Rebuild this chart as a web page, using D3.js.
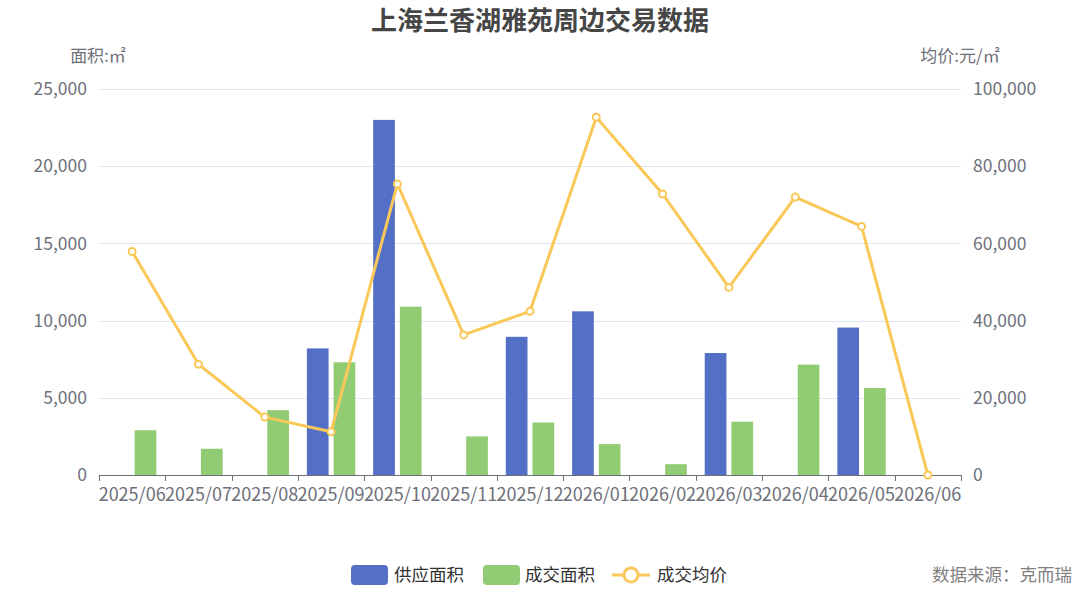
<!doctype html>
<html lang="zh">
  <head>
    <meta charset="utf-8">
    <title>上海兰香湖雅苑周边交易数据</title>
    <script src="https://d3js.org/d3.v7.min.js"></script>
    <style>
      body { margin: 0; background: #fff; }
      svg { display: block; font-family: "Noto Sans CJK SC", "Noto Sans", sans-serif; }
    </style>
  </head>

  <body>
    <svg width="1080" height="593"></svg>

    <script>
      var months = ["2025/06", "2025/07", "2025/08", "2025/09", "2025/10", "2025/11", "2025/12",
                    "2026/01", "2026/02", "2026/03", "2026/04", "2026/05", "2026/06"];
      var supplyArea = [0, 0, 0, 8200, 23000, 0, 8950, 10600, 0, 7900, 0, 9550, 0];
      var dealArea = [2900, 1700, 4200, 7300, 10900, 2500, 3400, 2000, 700, 3450, 7150, 5630, 0];
      var avgPrice = [57900, 28700, 15000, 11200, 75400, 36300, 42400, 92700, 72800, 48600, 72000, 64400, 0];
      var leftTicks = [0, 5000, 10000, 15000, 20000, 25000];
      var rightTicks = [0, 20000, 40000, 60000, 80000, 100000];

      var colors = { supply: "#5470c6", deal: "#91cc75", price: "#fac858" };
      var axisGray = "#6e7079";

      var svg = d3.select("svg");
      var plotL = 99, plotR = 961, plotT = 89, plotB = 475;

      var x = d3.scaleBand().domain(months).range([plotL, plotR]);
      var yL = d3.scaleLinear().domain([0, 25000]).range([plotB, plotT]);
      var yR = d3.scaleLinear().domain([0, 100000]).range([plotB, plotT]);

      // title
      svg.append("text")
        .attr("x", 540).attr("y", 30)
        .attr("text-anchor", "middle")
        .attr("font-size", 26).attr("font-weight", "bold")
        .attr("fill", "#464646")
        .text("上海兰香湖雅苑周边交易数据");

      // grid lines
      svg.append("g").selectAll("line").data(leftTicks.slice(1)).join("line")
        .attr("x1", plotL).attr("x2", plotR)
        .attr("y1", function(d){ return Math.round(yL(d)) + 0.5; })
        .attr("y2", function(d){ return Math.round(yL(d)) + 0.5; })
        .attr("stroke", "#e0e6f1");

      // axis names
      svg.append("text").attr("x", 98).attr("y", 62).attr("text-anchor", "middle")
        .attr("font-size", 17).attr("fill", axisGray).text("面积:㎡");
      svg.append("text").attr("x", 960).attr("y", 62).attr("text-anchor", "middle")
        .attr("font-size", 17).attr("fill", axisGray).text("均价:元/㎡");

      // left axis labels
      var fmt = d3.format(",");
      svg.append("g").selectAll("text").data(leftTicks).join("text")
        .attr("x", 87).attr("y", function(d){ return yL(d); })
        .attr("dy", "0.35em").attr("text-anchor", "end")
        .attr("font-size", 17.5).attr("fill", axisGray)
        .text(function(d){ return fmt(d); });

      // right axis labels
      svg.append("g").selectAll("text").data(rightTicks).join("text")
        .attr("x", 973).attr("y", function(d){ return yR(d); })
        .attr("dy", "0.35em").attr("text-anchor", "start")
        .attr("font-size", 17.5).attr("fill", axisGray)
        .text(function(d){ return fmt(d); });

      // bars
      var bw = 21.7, gap = 5;
      var pad = (x.bandwidth() - 2 * bw - gap) / 2;

      svg.append("g").selectAll("rect").data(supplyArea).join("rect")
        .attr("x", function(d, i){ return x(months[i]) + pad; })
        .attr("y", function(d){ return yL(d); })
        .attr("width", bw)
        .attr("height", function(d){ return plotB - yL(d); })
        .attr("fill", colors.supply);

      svg.append("g").selectAll("rect").data(dealArea).join("rect")
        .attr("x", function(d, i){ return x(months[i]) + pad + bw + gap; })
        .attr("y", function(d){ return yL(d); })
        .attr("width", bw)
        .attr("height", function(d){ return plotB - yL(d); })
        .attr("fill", colors.deal);

      // x axis
      var xAxis = svg.append("g");
      xAxis.append("line")
        .attr("x1", plotL).attr("x2", plotR)
        .attr("y1", plotB + 0.5).attr("y2", plotB + 0.5)
        .attr("stroke", axisGray);
      var bounds = months.map(function(m){ return x(m); }).concat([plotR]);
      xAxis.selectAll(".tick").data(bounds).join("line")
        .attr("x1", function(d){ return Math.round(d) + 0.5; })
        .attr("x2", function(d){ return Math.round(d) + 0.5; })
        .attr("y1", plotB).attr("y2", plotB + 6)
        .attr("stroke", axisGray);
      xAxis.selectAll("text").data(months).join("text")
        .attr("x", function(d){ return x(d) + x.bandwidth() / 2; })
        .attr("y", plotB + 26)
        .attr("text-anchor", "middle")
        .attr("font-size", 18).attr("fill", axisGray)
        .text(function(d){ return d; });

      // price line
      var line = d3.line()
        .x(function(d, i){ return x(months[i]) + x.bandwidth() / 2; })
        .y(function(d){ return yR(d); });
      svg.append("path").datum(avgPrice)
        .attr("d", line)
        .attr("fill", "none")
        .attr("stroke", colors.price)
        .attr("stroke-width", 3)
        .attr("stroke-linejoin", "round");
      svg.append("g").selectAll("circle").data(avgPrice).join("circle")
        .attr("cx", function(d, i){ return x(months[i]) + x.bandwidth() / 2; })
        .attr("cy", function(d){ return yR(d); })
        .attr("r", 3.5)
        .attr("fill", "#fff")
        .attr("stroke", colors.price)
        .attr("stroke-width", 2);

      // legend
      var lg = svg.append("g").attr("font-size", 17.5).attr("fill", "#333");
      lg.append("rect").attr("x", 351).attr("y", 565).attr("width", 37).attr("height", 20)
        .attr("rx", 4).attr("fill", colors.supply);
      lg.append("text").attr("x", 394).attr("y", 581).text("供应面积");
      lg.append("rect").attr("x", 483).attr("y", 565).attr("width", 37).attr("height", 20)
        .attr("rx", 4).attr("fill", colors.deal);
      lg.append("text").attr("x", 525).attr("y", 581).text("成交面积");
      lg.append("line").attr("x1", 612).attr("x2", 650).attr("y1", 575).attr("y2", 575)
        .attr("stroke", colors.price).attr("stroke-width", 3);
      lg.append("circle").attr("cx", 631).attr("cy", 575).attr("r", 7)
        .attr("fill", "#fff").attr("stroke", colors.price).attr("stroke-width", 3);
      lg.append("text").attr("x", 657).attr("y", 581).text("成交均价");

      svg.append("text").attr("x", 1072).attr("y", 581).attr("text-anchor", "end")
        .attr("font-size", 17.5).attr("fill", "#808080").text("数据来源：克而瑞");
    </script>
  </body>
</html>
